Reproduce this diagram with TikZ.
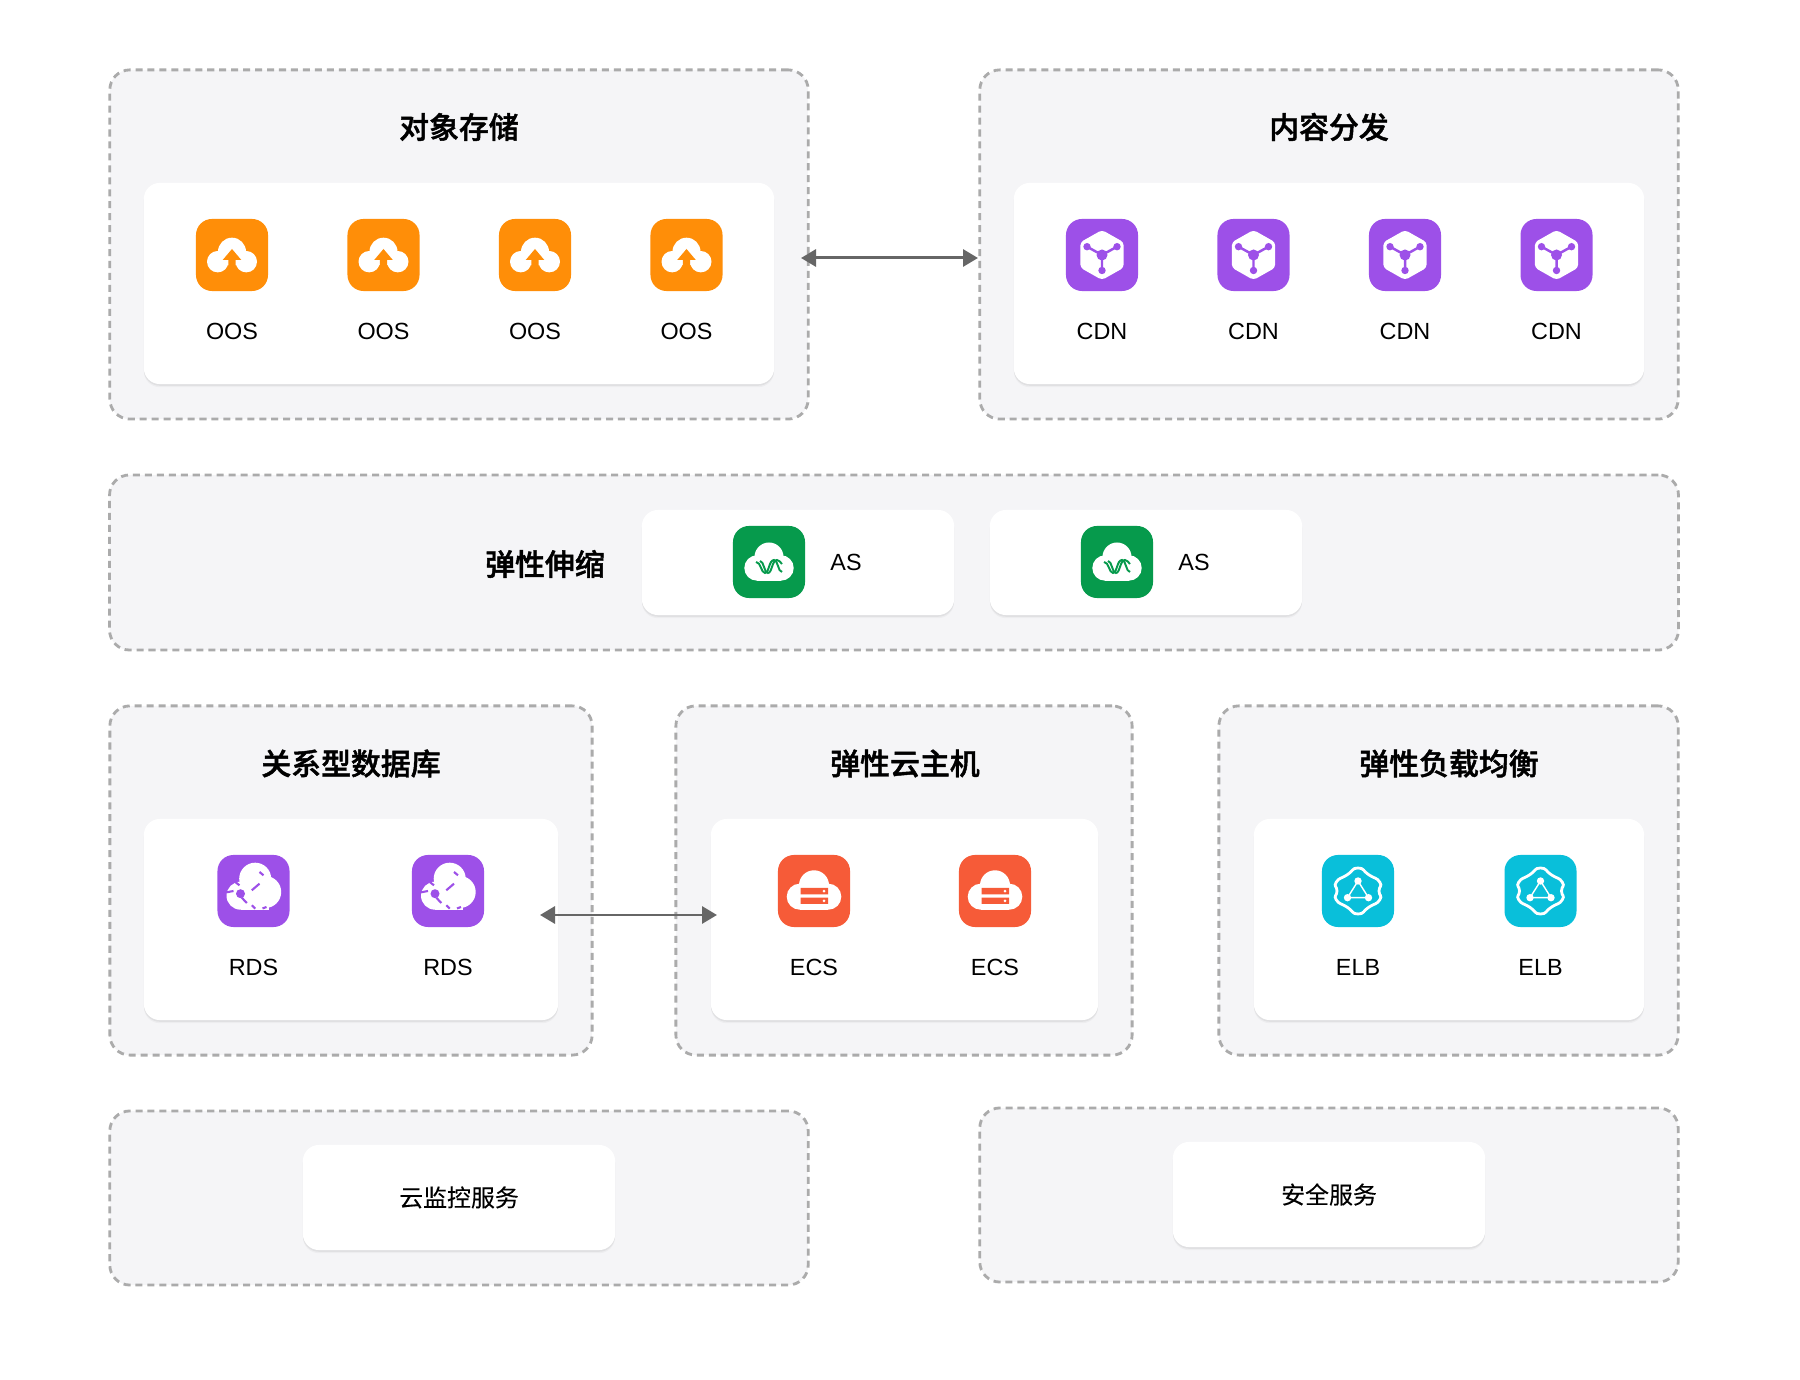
\documentclass[tikz,border=0pt]{standalone}
\usepackage{fontspec}
\setmainfont{Liberation Sans}
\newfontfamily\cjk[FakeBold=0.1]{Noto Sans CJK SC}
\newfontfamily\cjktitle[UprightFont=* Medium,FakeBold=1.5]{Noto Sans CJK SC}
\usetikzlibrary{arrows.meta,shadows}

\definecolor{panelgray}{HTML}{F5F5F7}
\definecolor{dashgray}{HTML}{ABABAB}
\definecolor{arrowgray}{HTML}{666666}
\definecolor{oosorange}{HTML}{FF8E08}
\definecolor{dbpurple}{HTML}{9D50E8}
\definecolor{asgreen}{HTML}{069A4C}
\definecolor{ecsred}{HTML}{F65B38}
\definecolor{elbcyan}{HTML}{09BFDA}

\tikzset{
  panel/.style={draw=dashgray,fill=panelgray,line width=0.8pt,dash pattern=on 2pt off 1.4pt,rounded corners=0.2cm,inner sep=0pt},
  card/.style={fill=white,rounded corners=0.16cm,inner sep=0pt,font=\cjk\fontsize{6.8pt}{8pt}\selectfont,
    drop shadow={shadow xshift=0pt,shadow yshift=-0.9pt,opacity=0.03,fill=black},
    drop shadow={shadow xshift=0pt,shadow yshift=-0.5pt,opacity=0.05,fill=black}},
  iconbox/.style={minimum size=0.72cm,rounded corners=0.16cm,inner sep=0pt},
  paneltitle/.style={inner sep=0pt,font=\cjktitle\fontsize{8.5pt}{10pt}\selectfont},
  iconlabel/.style={inner sep=0pt,font=\fontsize{6.65pt}{8pt}\selectfont},
  link/.style={draw=arrowgray,line width=0.85pt,{Triangle[length=0.15cm,width=0.17cm]}-{Triangle[length=0.15cm,width=0.17cm]}},
  pics/oosicon/.style={code={
    \fill [white] (-14.3,6.7) circle (10.7);
    \fill [white] (14.3,6.7) circle (10.7);
    \fill [white] (0,-3.3) circle (14);
    \fill [oosorange] (0,-6) -- (9.3,5) -- (3.6,5) -- (3.6,18) -- (-3.6,18) -- (-3.6,5) -- (-9.3,5) -- cycle;
  }},
  pics/cdnicon/.style={code={
    \fill [white,rounded corners=1pt] (0,-25) -- (21.7,-12.7) -- (21.7,12.7) -- (0,25) -- (-21.7,12.7) -- (-21.7,-12.7) -- cycle;
    \draw [dbpurple,line width=0.7pt] (-15,-8.3) -- (0,0) -- (15,-8.3) (0,0) -- (0,15.5);
    \fill [dbpurple] (0,0) circle (5.5) (-15,-8.3) circle (3.7) (15,-8.3) circle (3.7) (0,15.5) circle (3.7);
  }},
  pics/asicon/.style={code={
    \fill [white] (-12,6) circle (12.7);
    \fill [white] (12,6) circle (12.7);
    \fill [white] (0,-5) circle (14.5);
    \fill [white] (-12,0) rectangle (12,18.7);
    \draw [asgreen,line width=0.55pt] (-13,0) .. controls (-8,0) and (-8,11) .. (-4,11) .. controls (0,11) and (0,-2) .. (5,-2) .. controls (9,-2) and (9,10) .. (13,10);
    \draw [asgreen,line width=0.55pt] (-9,-1) .. controls (-5,-1) and (-5,11) .. (-1,11) .. controls (3,11) and (3,-2) .. (8,-2) .. controls (10,-2) and (11,0) .. (13,2);
  }},
  pics/rdsicon/.style={code={
    \fill [white] (1.7,-12.3) circle (16);
    \fill [white] (11.7,1) circle (16);
    \fill [white] (-13,4.7) circle (14);
    \fill [white] (-13,0) rectangle (15,18.7);
    \fill [dbpurple] (-13,2.7) circle (4.5);
    \draw [dbpurple,line width=0.6pt] (-11.7,6.7) -- (-6.7,12) (-1.7,-0.7) -- (6,-7.3) (-20,0) -- (-28,1.5) (-14,-5.7) -- (-18.3,-9)
      (-1.7,14.3) -- (1.7,17.7) (9,17.5) -- (13,16) (6,-19) -- (10,-15.7);
  }},
  pics/ecsicon/.style={code={
    \fill [white] (0,-5.7) circle (15);
    \fill [white] (-14.3,5.7) circle (13);
    \fill [white] (14.3,5.7) circle (13);
    \fill [white] (-14.3,-7.3) rectangle (14.3,18.7);
    \fill [ecsred] (-13.3,-3) rectangle (14,3.3) (-13.3,6.7) rectangle (14,13);
    \fill [white] (10,0.2) circle (1.5) (10,9.9) circle (1.5);
  }},
  pics/elbicon/.style={code={
    \draw [white,line width=0.8pt] plot [smooth cycle,tension=1] coordinates {(90:23) (56:19.5) (22:23.5) (0:21) (-22:23.5) (-56:19.5)
      (-90:23) (-124:19.5) (-158:23.5) (180:21) (158:23.5) (124:19.5)};
    \draw [white,line width=0.4pt] (0,-10) -- (10.5,6.7) -- (-10.5,6.7) -- cycle;
    \fill [white] (0,-10) circle (3.7) (10.5,6.7) circle (3.7) (-10.5,6.7) circle (3.7);
  }}
}

\begin{document}
\begin{tikzpicture}[x=0.01cm,y=-0.01cm]
  \useasboundingbox (0,0) rectangle (1800,1380);

  \node [panel,minimum width=6.98cm,minimum height=3.49cm] (storepanel) at (459,244.5) {};
  \node [panel,minimum width=6.98cm,minimum height=3.49cm] (cdnpanel) at (1329,244.5) {};
  \node [panel,minimum width=15.68cm,minimum height=1.75cm] (aspanel) at (894,562.5) {};
  \node [panel,minimum width=4.82cm,minimum height=3.49cm] (rdspanel) at (351,880.5) {};
  \node [panel,minimum width=4.56cm,minimum height=3.49cm] (ecspanel) at (904,880.5) {};
  \node [panel,minimum width=4.59cm,minimum height=3.49cm] (elbpanel) at (1448.5,880.5) {};
  \node [panel,minimum width=6.98cm,minimum height=1.74cm] (monitorpanel) at (459,1198) {};
  \node [panel,minimum width=6.98cm,minimum height=1.74cm] (safepanel) at (1329,1195) {};

  \node [paneltitle] (storetitle) at (459,127) {对象存储};
  \node [paneltitle] (cdntitle) at (1329,127) {内容分发};
  \node [paneltitle] (astitle) at (545,564) {弹性伸缩};
  \node [paneltitle] (rdstitle) at (351,763.5) {关系型数据库};
  \node [paneltitle] (ecstitle) at (905,763.5) {弹性云主机};
  \node [paneltitle] (elbtitle) at (1449,763.5) {弹性负载均衡};

  \node [card,minimum width=6.30cm,minimum height=2.01cm] (storecard) at (459,283.5) {};
  \node [card,minimum width=6.30cm,minimum height=2.01cm] (cdncard) at (1329,283.5) {};
  \node [card,minimum width=3.12cm,minimum height=1.05cm] (ascardA) at (798,562.5) {};
  \node [card,minimum width=3.12cm,minimum height=1.05cm] (ascardB) at (1146,562.5) {};
  \node [card,minimum width=4.14cm,minimum height=2.01cm] (rdscard) at (351,919.5) {};
  \node [card,minimum width=3.87cm,minimum height=2.01cm] (ecscard) at (904.5,919.5) {};
  \node [card,minimum width=3.90cm,minimum height=2.01cm] (elbcard) at (1449,919.5) {};
  \node [card,minimum width=3.12cm,minimum height=1.05cm] (monitorcard) at (459,1197.5) {云监控服务};
  \node [card,minimum width=3.12cm,minimum height=1.05cm] (safecard) at (1329,1194.5) {安全服务};

  \foreach \x/\n in {232/1,383.5/2,535/3,686.5/4} {
    \node [iconbox,fill=oosorange] (oos\n) at (\x,255) {};
    \pic at (oos\n.center) {oosicon};
    \node [iconlabel] (oosname\n) at (\x,331) {OOS};
  }
  \foreach \x/\n in {1102/1,1253.5/2,1405/3,1556.5/4} {
    \node [iconbox,fill=dbpurple] (cdn\n) at (\x,255) {};
    \pic at (cdn\n.center) {cdnicon};
    \node [iconlabel] (cdnname\n) at (\x,331) {CDN};
  }
  \foreach \x/\n/\m in {769/1/846,1117/2/1194} {
    \node [iconbox,fill=asgreen] (as\n) at (\x,562) {};
    \pic at (as\n.center) {asicon};
    \node [iconlabel] (asname\n) at (\m,562) {AS};
  }
  \foreach \x/\n in {253.5/1,448/2} {
    \node [iconbox,fill=dbpurple] (rds\n) at (\x,891) {};
    \pic at (rds\n.center) {rdsicon};
    \node [iconlabel] (rdsname\n) at (\x,967) {RDS};
  }
  \foreach \x/\n in {814/1,995/2} {
    \node [iconbox,fill=ecsred] (ecs\n) at (\x,891) {};
    \pic at (ecs\n.center) {ecsicon};
    \node [iconlabel] (ecsname\n) at (\x,967) {ECS};
  }
  \foreach \x/\n in {1358/1,1540.5/2} {
    \node [iconbox,fill=elbcyan] (elb\n) at (\x,891) {};
    \pic at (elb\n.center) {elbicon};
    \node [iconlabel] (elbname\n) at (\x,967) {ELB};
  }

  \coordinate (storeend) at (801,258);
  \coordinate (cdnend) at (978,258);
  \coordinate (rdsend) at (540,915);
  \coordinate (ecsend) at (717,915);
  \draw [link] (storeend) -- (cdnend);
  \draw [link] (rdsend) -- (ecsend);
\end{tikzpicture}
\end{document}
